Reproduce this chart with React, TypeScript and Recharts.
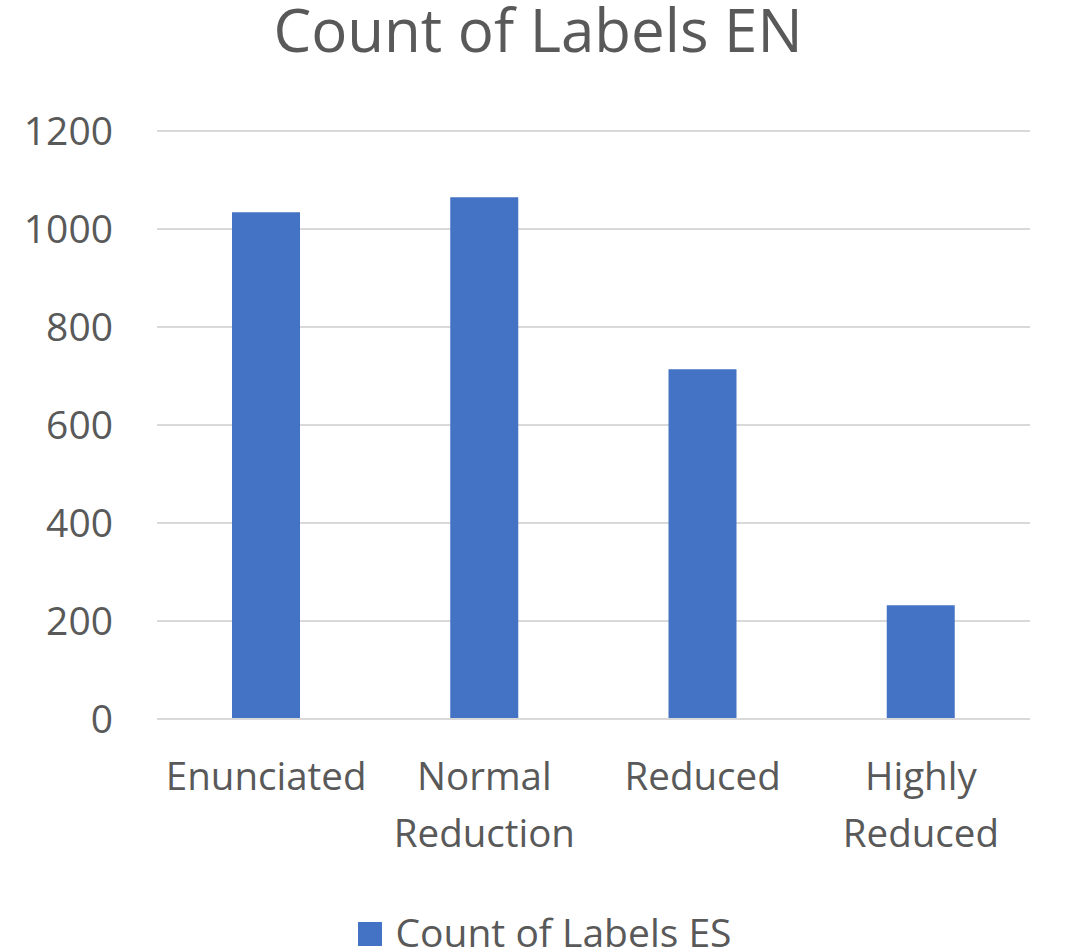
import { BarChart, Bar, XAxis, YAxis, CartesianGrid, Legend } from 'recharts'

const title = 'Count of Labels EN'
const seriesName = 'Count of Labels ES'
const categories = ['Enunciated', 'Normal Reduction', 'Reduced', 'Highly Reduced']
const countsES = [1034, 1065, 714, 232]
const yTicks = [0, 200, 400, 600, 800, 1000, 1200]

const data = categories.map((name, i) => ({ name, count: countsES[i] }))

const FONT = '"Open Sans", sans-serif'
const TEXT = '#595959'
const GRID = '#d9d9d9'
const BLUE = '#4472C4'

function CategoryTick({ x, y, payload }: any) {
  const lines = String(payload.value).split(' ')
  return (
    <text x={x} y={y} textAnchor="middle" fill={TEXT} fontSize={38.5} fontFamily={FONT}>
      {lines.map((line, i) => (
        <tspan key={i} x={x} y={y + 71 + i * 57}>{line}</tspan>
      ))}
    </text>
  )
}

function LegendContent({ payload }: any) {
  return (
    <div style={{ display: 'flex', justifyContent: 'center', alignItems: 'flex-end', height: 46, paddingLeft: 14 }}>
      {(payload || []).map((entry: any) => (
        <div key={entry.value} style={{ display: 'flex', alignItems: 'flex-end' }}>
          <span style={{ display: 'inline-block', width: 24, height: 24, background: entry.color, marginRight: 13, marginBottom: 6 }} />
          <span style={{ fontFamily: FONT, fontSize: 39, color: TEXT, lineHeight: '40px' }}>{entry.value}</span>
        </div>
      ))}
    </div>
  )
}

export default function App() {
  return (
    <div style={{ position: 'relative', width: 1076, height: 952, background: '#fff' }}>
      <style>{'body { margin: 0; }'}</style>
      <div style={{
        position: 'absolute', top: 0, left: 0, width: 1076, textAlign: 'center',
        fontFamily: FONT, fontSize: 60, lineHeight: '58px', color: TEXT, zIndex: 1,
      }}>
        {title}
      </div>
      <BarChart
        width={1076}
        height={952}
        data={data}
        margin={{ top: 131, right: 46, left: 0, bottom: 0 }}
        barSize={68}
      >
        <CartesianGrid vertical={false} stroke={GRID} strokeWidth={2} />
        <XAxis
          dataKey="name"
          interval={0}
          height={187}
          tickSize={0}
          tickMargin={0}
          axisLine={{ stroke: GRID, strokeWidth: 2 }}
          tickLine={false}
          tick={<CategoryTick />}
        />
        <YAxis
          width={157}
          domain={[0, 1200]}
          ticks={yTicks}
          tickSize={0}
          tickMargin={44}
          axisLine={false}
          tickLine={false}
          tick={{ fontSize: 39, fill: TEXT, fontFamily: FONT }}
        />
        <Legend
          verticalAlign="bottom"
          content={<LegendContent />}
          wrapperStyle={{ left: 0, width: 1076, bottom: 0 }}
        />
        <Bar dataKey="count" name={seriesName} fill={BLUE} isAnimationActive={false} />
      </BarChart>
    </div>
  )
}
